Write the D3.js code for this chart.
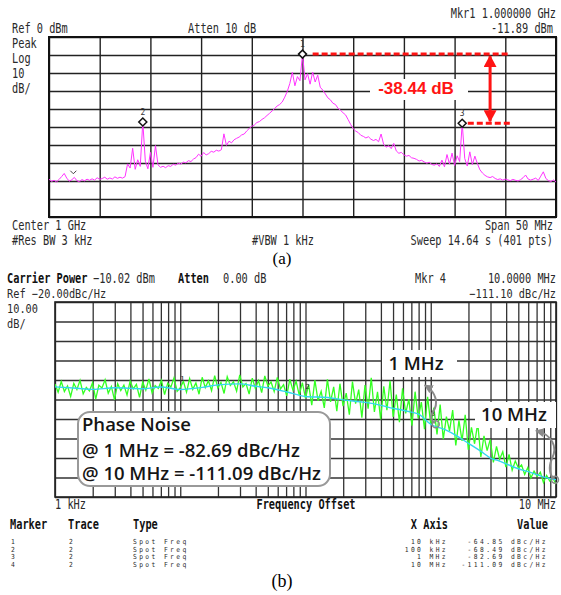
<!DOCTYPE html>
<html>
<head>
<meta charset="utf-8">
<script src="https://d3js.org/d3.v7.min.js"></script>
<style>
body { margin: 0; background: #fff; }
svg { display: block; }
.mono { font-family: 'DejaVu Sans Mono', monospace; fill: #2a2a2a; }
.grid .domain { display: none; }
.grid line { stroke: #222; stroke-width: 1.4; }
.gridB line { stroke: #333; stroke-width: 1.3; }
.callout { font-family: 'Open Sans', Lato, sans-serif; font-weight: 600; fill: #151515; }
</style>
</head>
<body>
<svg width="561" height="595"></svg>
<script>
// (a) spectrum sweep, 975..1025 MHz, dBm
var specStart = 975,
    specStep = 0.25,
    specTrace = [
  -79.0,-80.2,-79.6,-80.5,-79.1,-77.5,-75.8,-78.4,-80.1,-79.3,-78.0,-79.8,-80.4,-79.2,-79.9,-79.0,
  -79.6,-78.8,-79.5,-78.2,-79.1,-78.6,-77.9,-79.0,-78.3,-78.9,-77.7,-78.5,-77.9,-78.4,-77.6,
  -70.5,-72.8,-61.8,-73.5,-68.2,-71.9,-47.2,-69.0,-73.2,-64.1,-72.4,-60.3,-71.0,
  -72.4,-71.8,-72.6,-71.5,-71.9,-70.7,-71.2,-70.1,-70.6,-69.5,-69.9,-68.7,-69.2,-67.8,-67.0,-65.1,
  -66.3,-64.2,-65.5,-64.8,-63.5,-64.0,-62.9,-63.4,-62.6,-53.8,
  -60.2,-57.9,-58.8,-57.1,-56.3,-55.6,-54.4,-53.9,-52.2,-50.8,-49.6,-48.9,-47.5,-47.0,-45.8,-44.9,
  -43.6,-42.4,-41.1,-39.8,-38.3,-37.5,-36.1,
  -33.4,-30.2,-25.8,-19.6,-27.1,-22.0,-24.3,-9.5,-23.8,-20.4,-26.2,-19.5,-25.0,-21.2,-27.9,-29.5,
  -31.6,-33.8,-34.9,-36.8,-37.5,-39.6,-40.7,-42.1,-43.3,-45.9,-48.6,-50.9,
  -52.3,-53.1,-54.6,-55.2,-56.1,-55.4,-56.8,-57.5,-56.9,-58.2,-53.9,-59.6,-61.2,-60.4,-62.0,-59.1,
  -63.3,-64.6,-64.1,-65.5,-66.2,-65.8,-67.1,-67.4,-68.0,-68.9,-68.5,-69.4,-70.1,-69.6,-70.8,-71.2,
  -70.5,-71.9,
  -68.4,-72.1,-65.3,-70.6,-64.5,-71.4,-66.0,-69.2,-47.94,-67.5,-71.7,-63.8,-70.9,-66.2,-70.4,
  -73.8,-75.6,-76.9,-77.7,-78.1,-77.5,-78.6,-79.2,-78.8,-79.5,-78.9,-79.4,-79.8,-79.1,-79.6,-80.0,
  -79.3,-78.2,-76.7,-78.9,-79.5,-79.0,-78.4,-79.7,-77.3,-74.9,-78.6,-79.8,-80.3,-79.4,-80.6
    ],
    specMarkers = [100, 37, 163];   // sweep index of markers 1, 2, 3

// (b) phase noise, raw trace: 40 points per decade from 1 kHz, dBc/Hz
var pnStartHz = 1e3,
    pnPerDecade = 40,
    pnTrace = [
  -62.1,-66.3,-60.8,-65.9,-63.0,-68.4,-61.7,-64.9,-60.2,-67.1,
  -63.8,-65.6,-61.4,-69.8,-62.7,-64.1,-59.9,-66.8,-63.3,-70.2,
  -61.9,-65.4,-62.6,-67.7,-60.5,-64.6,-62.2,-68.9,-61.1,-65.2,
  -59.4,-66.6,-62.9,-64.3,-60.1,-67.5,-61.6,-63.7,-58.9,-65.8,
  -63.9,
  -60.7,-66.2,-59.3,-64.8,-61.5,-67.3,-58.6,-63.9,-60.4,-65.5,
  -57.8,-64.1,-61.2,-66.9,-58.3,-62.8,-60.9,-65.7,-57.4,-63.6,
  -61.8,-67.2,-59.1,-64.4,-60.3,-66.5,-57.9,-63.1,-61.0,-65.9,
  -58.7,-64.6,-62.4,-68.1,-59.6,-65.3,-60.6,-67.8,-61.3,-69.4,
  -62.4,-72.9,-60.1,-70.6,-65.8,-74.3,-59.7,-71.2,-63.5,-76.0,
  -61.9,-73.4,-66.7,-77.8,-60.8,-72.1,-64.9,-79.3,-62.6,-74.7,
  -58.9,-76.4,-66.1,-80.2,-63.2,-75.5,-60.4,-78.9,-67.5,-81.6,
  -64.3,-77.1,-69.8,-83.4,-66.0,-79.7,-71.3,-85.2,-68.6,-82.9,
  -74.2,-87.9,-72.6,-90.3,-78.8,-86.1,-75.4,-93.6,-80.7,-91.2,
  -77.9,-95.8,-84.3,-92.7,-82.1,-99.4,-88.6,-96.2,-90.5,-102.3,
  -94.1,-100.6,-96.8,-104.7,-98.2,-106.3,-101.5,-105.1,-103.6,-108.4,
  -104.9,-110.2,-106.7,-109.5,-107.3,-112.6,-108.9,-111.8,-110.4,-113.5
    ];

// smoothed trace
var pnSmoothHz = [1e3,1.5e3,2e3,3e3,5e3,7e3,1e4,1.5e4,2e4,3e4,4e4,5e4,7e4,
                  1e5,1.5e5,2e5,3e5,4e5,5e5,6e5,7e5,8e5,
                  1e6,1.3e6,1.6e6,2e6,2.5e6,3e6,3.5e6,4e6,5e6,6e6,7e6,8e6,1e7],
    pnSmooth = [-63.5,-64.2,-64.8,-64.0,-64.5,-63.6,-64.85,-63.8,-62.5,-62.0,-63.2,-64.0,-66.0,
                -68.49,-69.0,-70.2,-71.5,-73.0,-74.5,-75.5,-76.5,-77.5,
                -82.69,-85.5,-88.5,-92.5,-96.5,-100.0,-101.5,-103.0,-105.5,-107.0,-108.5,-109.8,
                -111.09];

var mkrHz = [1e4, 1e5, 1e6, 1e7],
    mkrVal = [-64.85, -68.49, -82.69, -111.09],
    mkrXText = ['10 kHz', '100 kHz', '1 MHz', '10 MHz'];

var svg = d3.select('svg');
var defs = svg.append('defs');

function arrowHead(id, color, w, h) {
  defs.append('marker')
      .attr('id', id)
      .attr('markerUnits', 'userSpaceOnUse')
      .attr('markerWidth', w)
      .attr('markerHeight', h)
      .attr('viewBox', '0 0 ' + w + ' ' + h)
      .attr('refX', w - 1)
      .attr('refY', h / 2)
      .attr('orient', 'auto-start-reverse')
    .append('path')
      .attr('d', 'M0,0L' + w + ',' + (h / 2) + 'L0,' + h + 'Z')
      .attr('fill', color);
}
arrowHead('redHead', '#ff1414', 12, 13);
arrowHead('grayHead', '#8a8a8a', 9, 9);

// analyzer style text, tall narrow glyphs
function txt(g, x, y, s, o) {
  o = o || {};
  var t = g.append('text')
      .attr('class', 'mono')
      .attr('transform', 'translate(' + x + ',' + y + ') scale(1,' + (o.sy || 1.35) + ')')
      .attr('text-anchor', o.anchor || 'start')
      .style('font-size', (o.size || 10.3) + 'px')
      .text(s);
  if (o.bold) t.style('font-weight', 'bold').style('fill', '#111');
  if (o.ls) t.style('letter-spacing', o.ls + 'px');
  return t;
}

// ---------- (a) ----------
var xA = d3.scaleLinear().domain([975, 1025]).range([49, 556]),
    yA = d3.scaleLinear().domain([-100, 0]).range([217, 37]);
var gA = svg.append('g');

gA.append('g').attr('class', 'grid')
    .attr('transform', 'translate(0,217)')
    .call(d3.axisBottom(xA).tickValues(d3.range(975, 1026, 5)).tickSize(-180).tickFormat(''));
gA.append('g').attr('class', 'grid')
    .attr('transform', 'translate(49,0)')
    .call(d3.axisLeft(yA).tickValues(d3.range(-100, 1, 10)).tickSize(-507).tickFormat(''));
gA.append('rect')
    .attr('x', 49).attr('y', 37).attr('width', 507).attr('height', 180)
    .attr('fill', 'none').attr('stroke', '#111').attr('stroke-width', 2);

var lineA = d3.line()
    .x(function(d, i) { return xA(specStart + i * specStep); })
    .y(function(d) { return yA(d); });
gA.append('path')
    .datum(specTrace)
    .attr('d', lineA)
    .attr('fill', 'none')
    .attr('stroke', '#ff33ff')
    .attr('stroke-width', 1);

// small marker tick near left floor
gA.append('path')
    .attr('d', 'M' + (xA(977.4) - 3) + ',' + (yA(specTrace[9]) - 9) + 'l3,3l3,-3')
    .attr('fill', 'none').attr('stroke', '#444').attr('stroke-width', 1);

var mk = gA.selectAll('.mk')
    .data(specMarkers)
    .enter().append('g')
    .attr('class', 'mk')
    .attr('transform', function(d) {
      return 'translate(' + xA(specStart + d * specStep) + ',' + yA(specTrace[d]) + ')';
    });
mk.append('path')
    .attr('d', 'M0,-4L4,0L0,4L-4,0Z')
    .attr('fill', '#fff').attr('stroke', '#111').attr('stroke-width', 1.5);
mk.append('text')
    .attr('y', -7)
    .attr('text-anchor', 'middle')
    .style('font', '8px "DejaVu Sans Mono", monospace')
    .style('fill', '#333')
    .text(function(d, i) { return i + 1; });

// delta annotation between markers 1 and 3
var yM1 = yA(specTrace[specMarkers[0]]),
    yM3 = yA(specTrace[specMarkers[2]]);
gA.append('line')
    .attr('x1', xA(1001)).attr('x2', xA(1020.5)).attr('y1', yM1).attr('y2', yM1)
    .attr('stroke', '#ff1414').attr('stroke-width', 3).attr('stroke-dasharray', '6,3');
gA.append('line')
    .attr('x1', xA(1016.3)).attr('x2', xA(1020.5)).attr('y1', yM3).attr('y2', yM3)
    .attr('stroke', '#ff1414').attr('stroke-width', 3).attr('stroke-dasharray', '6,3');
gA.append('line')
    .attr('x1', xA(1018.5)).attr('x2', xA(1018.5)).attr('y1', yM1 + 2).attr('y2', yM3 - 2)
    .attr('stroke', '#ff1414').attr('stroke-width', 3)
    .attr('marker-start', 'url(#redHead)').attr('marker-end', 'url(#redHead)');
gA.append('rect')
    .attr('x', 370).attr('y', 79).attr('width', 98).attr('height', 21).attr('fill', '#fff');
gA.append('text')
    .attr('x', 416).attr('y', 94)
    .attr('text-anchor', 'middle')
    .style('font', 'bold 17px "Liberation Sans", Arial, sans-serif')
    .style('fill', '#ff1414')
    .text((specTrace[specMarkers[2]] - specTrace[specMarkers[0]]).toFixed(2) + ' dB');

txt(gA, 556, 18, 'Mkr1  1.000000 GHz', {anchor: 'end'});
txt(gA, 12, 33, 'Ref 0 dBm');
txt(gA, 188, 33, 'Atten 10 dB');
txt(gA, 553, 33, '-11.89 dBm', {anchor: 'end'});
txt(gA, 12, 48, 'Peak');
txt(gA, 12, 63, 'Log');
txt(gA, 12, 78, '10');
txt(gA, 12, 93, 'dB/');
txt(gA, 12, 230, 'Center 1 GHz');
txt(gA, 12, 245, '#Res BW 3 kHz');
txt(gA, 252, 245, '#VBW 1 kHz');
txt(gA, 553, 230, 'Span 50 MHz', {anchor: 'end'});
txt(gA, 553, 245, 'Sweep 14.64 s (401 pts)', {anchor: 'end'});

svg.append('text')
    .attr('x', 282).attr('y', 264)
    .attr('text-anchor', 'middle')
    .style('font', '17px "Liberation Serif", "Times New Roman", serif')
    .text('(a)');

// ---------- (b) ----------
var xB = d3.scaleLog().domain([1e3, 1e7]).range([55, 556]),
    yB = d3.scaleLinear().domain([-120, -20]).range([497, 302]);
var gB = svg.append('g');

var logTicks = [];
[1e3, 1e4, 1e5, 1e6].forEach(function(dec) {
  d3.range(1, 10).forEach(function(k) { logTicks.push(k * dec); });
});
logTicks.push(1e7);

gB.append('g').attr('class', 'grid gridB')
    .attr('transform', 'translate(0,497)')
    .call(d3.axisBottom(xB).tickValues(logTicks).tickSize(-195).tickFormat(''));
gB.append('g').attr('class', 'grid gridB')
    .attr('transform', 'translate(55,0)')
    .call(d3.axisLeft(yB).tickValues(d3.range(-120, -19, 10)).tickSize(-501).tickFormat(''));
gB.append('rect')
    .attr('x', 55).attr('y', 302).attr('width', 501).attr('height', 195)
    .attr('fill', 'none').attr('stroke', '#222').attr('stroke-width', 1.6);

defs.append('clipPath').attr('id', 'clipB')
  .append('rect').attr('x', 55).attr('y', 302).attr('width', 501).attr('height', 195);

var lineRaw = d3.line()
    .x(function(d, i) { return xB(pnStartHz * Math.pow(10, i / pnPerDecade)); })
    .y(function(d) { return yB(d); });
gB.append('path')
    .datum(pnTrace)
    .attr('clip-path', 'url(#clipB)')
    .attr('d', lineRaw)
    .attr('fill', 'none')
    .attr('stroke', '#33ff22')
    .attr('stroke-width', 1.3);

var lineSm = d3.line()
    .x(function(d) { return xB(d[0]); })
    .y(function(d) { return yB(d[1]); })
    .curve(d3.curveMonotoneX);
gB.append('path')
    .datum(d3.zip(pnSmoothHz, pnSmooth))
    .attr('clip-path', 'url(#clipB)')
    .attr('d', lineSm)
    .attr('fill', 'none')
    .attr('stroke', '#33d6f0')
    .attr('stroke-width', 1.4);

gB.selectAll('.mkB')
    .data(mkrHz.slice(0, 3))
    .enter().append('text')
    .attr('class', 'mkB')
    .attr('x', function(d) { return xB(d) + 2; })
    .attr('y', function(d, i) { return yB(mkrVal[i]) - 8; })
    .attr('text-anchor', 'middle')
    .style('font', '7px "DejaVu Sans Mono", monospace')
    .style('fill', '#222')
    .text(function(d, i) { return i + 1; });

// callout labels
gB.append('rect').attr('x', 382).attr('y', 350).attr('width', 75).attr('height', 27).attr('fill', '#fff');
gB.append('text').attr('class', 'callout')
    .attr('x', 416).attr('y', 370).attr('text-anchor', 'middle')
    .style('font-size', '18.5px').text('1 MHz');
gB.append('rect').attr('x', 475).attr('y', 402).attr('width', 81).attr('height', 26).attr('fill', '#fff');
gB.append('text').attr('class', 'callout')
    .attr('x', 514).attr('y', 421).attr('text-anchor', 'middle')
    .style('font-size', '18.5px').text('10 MHz');

var m3x = xB(mkrHz[2]), m3y = yB(mkrVal[2]),
    m4x = xB(mkrHz[3]), m4y = yB(mkrVal[3]);
gB.append('path')
    .attr('d', 'M' + (m3x - 6) + ',' + (m3y - 39) + 'C' + (m3x + 6) + ',' + (m3y - 32) + ' ' +
               (m3x + 8) + ',' + (m3y - 20) + ' ' + (m3x + 2) + ',' + (m3y - 12) + 'C' +
               (m3x - 1) + ',' + (m3y - 7) + ' ' + (m3x + 1) + ',' + (m3y - 3) + ' ' +
               (m3x + 4) + ',' + (m3y - 1))
    .attr('fill', 'none').attr('stroke', '#8a8a8a').attr('stroke-width', 2)
    .attr('marker-start', 'url(#grayHead)');
gB.append('circle').attr('cx', m3x + 5).attr('cy', m3y).attr('r', 3.5)
    .attr('fill', 'none').attr('stroke', '#8a8a8a').attr('stroke-width', 1.5);
gB.append('path')
    .attr('d', 'M' + (m4x - 20) + ',' + (m4y - 49) + 'C' + (m4x - 4) + ',' + (m4y - 45) + ' ' +
               (m4x + 2) + ',' + (m4y - 33) + ' ' + (m4x - 4) + ',' + (m4y - 21) + 'C' +
               (m4x - 8) + ',' + (m4y - 12) + ' ' + (m4x - 6) + ',' + (m4y - 4) + ' ' +
               (m4x - 2) + ',' + (m4y - 1))
    .attr('fill', 'none').attr('stroke', '#8a8a8a').attr('stroke-width', 2)
    .attr('marker-start', 'url(#grayHead)');
gB.append('circle').attr('cx', m4x - 1).attr('cy', m4y).attr('r', 3.5)
    .attr('fill', 'none').attr('stroke', '#8a8a8a').attr('stroke-width', 1.5);

// phase noise box
gB.append('rect')
    .attr('x', 78).attr('y', 412).attr('width', 252).attr('height', 74).attr('rx', 12)
    .attr('fill', '#fff').attr('stroke', '#999').attr('stroke-width', 2);
gB.append('text').attr('class', 'callout')
    .attr('x', 82).attr('y', 431).style('font-size', '18.5px').text('Phase Noise');
gB.append('text').attr('class', 'callout')
    .attr('x', 82).attr('y', 457).style('font-size', '18.5px')
    .text('@ 1 MHz = ' + mkrVal[2].toFixed(2) + ' dBc/Hz');
gB.append('text').attr('class', 'callout')
    .attr('x', 82).attr('y', 480).style('font-size', '18.5px')
    .text('@ 10 MHz = ' + mkrVal[3].toFixed(2) + ' dBc/Hz');

// header texts
txt(gB, 7, 283, 'Carrier Power', {bold: true});
txt(gB, 93, 283, '\u221210.02 dBm');
txt(gB, 178, 283, 'Atten', {bold: true});
txt(gB, 223, 283, '0.00 dB');
txt(gB, 7, 298, 'Ref \u221220.00dBc/Hz', {sy: 1.2});
txt(gB, 7, 313, '10.00', {sy: 1.2});
txt(gB, 7, 328, 'dB/', {sy: 1.2});
txt(gB, 415, 283, 'Mkr 4');
txt(gB, 556, 283, '10.0000 MHz', {anchor: 'end'});
txt(gB, 556, 298, '\u2212111.10 dBc/Hz', {anchor: 'end', sy: 1.2});
txt(gB, 55, 509, '1 kHz');
txt(gB, 306, 509, 'Frequency Offset', {anchor: 'middle', bold: true});
txt(gB, 556, 509, '10 MHz', {anchor: 'end'});

// marker table
txt(gB, 10, 529, 'Marker', {bold: true});
txt(gB, 68, 529, 'Trace', {bold: true});
txt(gB, 133, 529, 'Type', {bold: true});
txt(gB, 448, 529, 'X Axis', {bold: true, anchor: 'end'});
txt(gB, 548, 529, 'Value', {bold: true, anchor: 'end'});
mkrHz.forEach(function(d, i) {
  var y = 544 + i * 7.5;
  txt(gB, 11, y, String(i + 1), {size: 6.3, sy: 1.1, ls: 2.4});
  txt(gB, 69, y, '2', {size: 6.3, sy: 1.1, ls: 2.4});
  txt(gB, 133, y, 'Spot Freq', {size: 6.3, sy: 1.1, ls: 2.4});
  txt(gB, 448, y, mkrXText[i], {size: 6.3, sy: 1.1, ls: 2.4, anchor: 'end'});
  txt(gB, 548, y, mkrVal[i].toFixed(2) + ' dBc/Hz', {size: 6.3, sy: 1.1, ls: 2.4, anchor: 'end'});
});

svg.append('text')
    .attr('x', 282).attr('y', 587)
    .attr('text-anchor', 'middle')
    .style('font', '18px "Liberation Serif", "Times New Roman", serif')
    .text('(b)');
</script>
</body>
</html>
